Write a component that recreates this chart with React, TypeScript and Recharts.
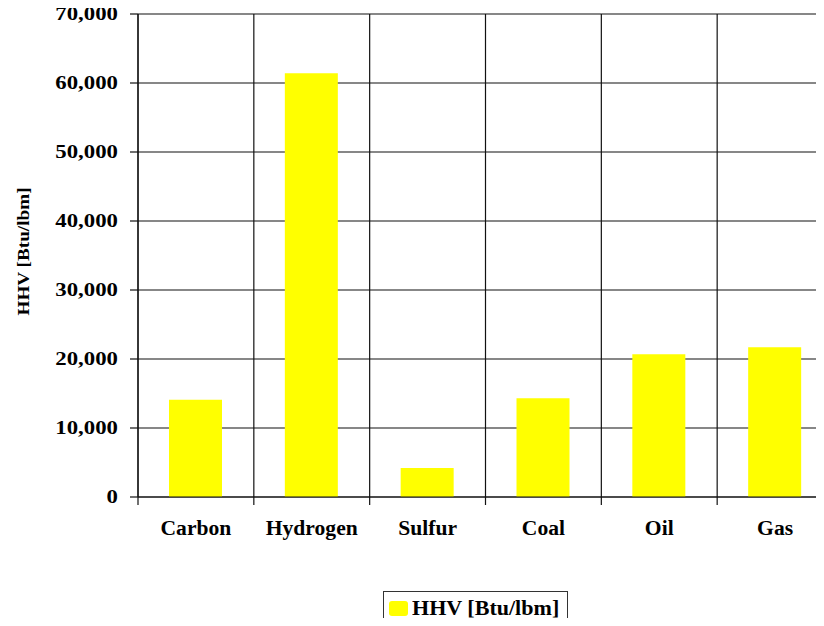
import React from 'react';
import { BarChart, Bar, XAxis, YAxis, CartesianGrid, Legend } from 'recharts';

// Higher heating values of common fuels and elements
const fuels = ['Carbon', 'Hydrogen', 'Sulfur', 'Coal', 'Oil', 'Gas'];
const hhv = [14100, 61400, 4200, 14300, 20700, 21700];
const yTicks = [0, 10000, 20000, 30000, 40000, 50000, 60000, 70000];
const seriesName = 'HHV [Btu/lbm]';
const yAxisTitle = 'HHV [Btu/lbm]';

const data = fuels.map((name, i) => ({ name, hhv: hhv[i] }));

const FONT = '"Liberation Serif", "Times New Roman", serif';
const LINE = '#111';
const fmt = (v: number) => v.toLocaleString('en-US');

// vertical grid lines sit on the category boundaries, not the centres
const boundaryGrid = ({ offset }: any) =>
  Array.from({ length: fuels.length + 1 }, (_, i) => offset.left + (i * offset.width) / fuels.length);

const YTick = (props: any) => {
  const { x, y, payload } = props;
  return (
    <text
      transform={`translate(${x},${y}) scale(1.2,1)`}
      textAnchor="end"
      dominantBaseline="central"
      fontFamily={FONT}
      fontWeight="bold"
      fontSize={19}
      fill="#000"
    >
      {fmt(payload.value)}
    </text>
  );
};

// category label plus tick marks on the band edges
const XTick = (props: any) => {
  const { x, y, payload, index } = props;
  const half = payload.offset ?? 0;
  return (
    <g>
      <line x1={x - half} x2={x - half} y1={y} y2={y + 8} stroke={LINE} strokeWidth={1.2} />
      {index === fuels.length - 1 && (
        <line x1={x + half} x2={x + half} y1={y} y2={y + 8} stroke={LINE} strokeWidth={1.2} />
      )}
      <text
        transform={`translate(${x},${y + 38}) scale(1.08,1)`}
        textAnchor="middle"
        fontFamily={FONT}
        fontWeight="bold"
        fontSize={20}
        fill="#000"
      >
        {payload.value}
      </text>
    </g>
  );
};

const YTitle = (props: any) => {
  const { viewBox } = props;
  const cx = viewBox.x + 24;
  const cy = viewBox.y + viewBox.height / 2 - 4;
  return (
    <text
      transform={`translate(${cx},${cy}) rotate(-90) scale(1.2,1)`}
      textAnchor="middle"
      dominantBaseline="central"
      fontFamily={FONT}
      fontWeight="bold"
      fontSize={16}
      fill="#000"
    >
      {yAxisTitle}
    </text>
  );
};

const LegendBox = (props: any) => {
  const items = props.payload || [];
  return (
    <div
      style={{
        boxSizing: 'border-box',
        height: 34,
        width: 185,
        border: '1.5px solid #333',
        display: 'flex',
        alignItems: 'center',
        paddingLeft: 5,
        background: '#fff',
      }}
    >
      {items.map((it: any) => (
        <div key={it.value} style={{ display: 'flex', alignItems: 'center' }}>
          <span
            style={{
              display: 'inline-block',
              width: 19,
              height: 15,
              borderRadius: 3,
              background: it.color,
              marginRight: 4,
            }}
          />
          <span
            style={{
              fontFamily: FONT,
              fontWeight: 'bold',
              fontSize: 21,
              color: '#000',
              display: 'inline-block',
              transform: 'scaleX(1.05)',
              transformOrigin: 'left center',
              whiteSpace: 'nowrap',
              lineHeight: '20px',
            }}
          >
            {it.value}
          </span>
        </div>
      ))}
    </div>
  );
};

export default function App() {
  return (
    <div style={{ margin: -8, width: 824, height: 626, overflow: 'hidden', background: '#fff' }}>
      <BarChart
        width={850}
        height={626}
        data={data}
        margin={{ top: 14, right: 17, bottom: 1, left: 0 }}
        barCategoryGap={0}
      >
        <CartesianGrid stroke={LINE} strokeWidth={1.2} verticalCoordinatesGenerator={boundaryGrid} />
        <XAxis
          dataKey="name"
          height={94}
          axisLine={{ stroke: LINE, strokeWidth: 1.2 }}
          tickLine={false}
          tickSize={0}
          tickMargin={0}
          interval={0}
          tick={XTick}
        />
        <YAxis
          width={138}
          domain={[0, 70000]}
          ticks={yTicks}
          tickSize={8}
          tickMargin={12}
          tick={YTick}
          axisLine={{ stroke: LINE, strokeWidth: 1.2 }}
          tickLine={{ stroke: LINE, strokeWidth: 1.2 }}
          label={<YTitle />}
        />
        <Legend
          verticalAlign="bottom"
          content={LegendBox}
          wrapperStyle={{ left: 383, width: 185 }}
        />
        <Bar
          dataKey="hhv"
          name={seriesName}
          fill="#FFFF00"
          barSize={53}
          isAnimationActive={false}
        />
      </BarChart>
    </div>
  );
}
